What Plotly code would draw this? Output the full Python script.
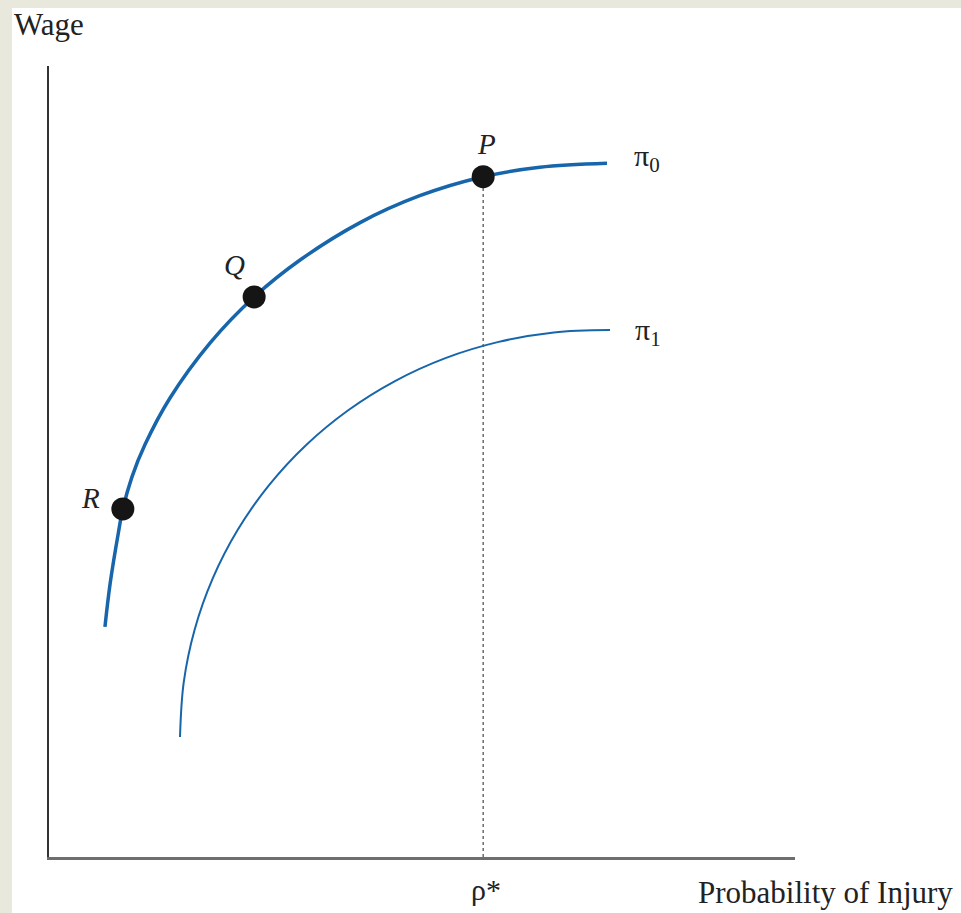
import plotly.graph_objects as go

# Iso-profit curves: wage offered against probability of injury
pi0_x = [0.75, 0.82, 0.93, 0.99, 1.11, 1.29, 1.62, 2.16, 2.75, 3.37, 4.17, 4.97, 5.82, 6.58, 7.48]
pi0_y = [2.91, 3.46, 4.10, 4.40, 4.80, 5.22, 5.80, 6.50, 7.08, 7.55, 8.02, 8.36, 8.60, 8.72, 8.77]

pi1_x = [1.756, 1.805, 1.952, 2.195, 2.528, 2.947, 3.444, 4.011, 4.638, 5.314, 6.028, 6.768, 7.520]
pi1_y = [1.517, 2.202, 2.874, 3.522, 4.133, 4.698, 5.206, 5.648, 6.017, 6.307, 6.512, 6.632, 6.662]

# Points on the higher iso-profit curve
point_names = ["R", "Q", "P"]
point_x = [0.99, 2.75, 5.82]
point_y = [4.40, 7.08, 8.60]

rho_star = 5.82

SERIF = "Liberation Serif, Times New Roman, serif"
BLUE = "#1766ab"
TEXT = "#222222"

fig = go.Figure()

fig.add_trace(go.Scatter(
    x=[rho_star, rho_star], y=[0, point_y[2]], mode="lines",
    line=dict(color="#555555", width=1.3, dash="dot"), hoverinfo="skip"))

fig.add_trace(go.Scatter(
    x=pi1_x, y=pi1_y, mode="lines", line=dict(color=BLUE, width=2, shape="spline"),
    hoverinfo="skip"))

fig.add_trace(go.Scatter(
    x=pi0_x, y=pi0_y, mode="lines", line=dict(color=BLUE, width=3.5, shape="spline"),
    hoverinfo="skip"))

fig.add_trace(go.Scatter(
    x=point_x, y=point_y, mode="markers",
    marker=dict(color="#151515", size=23, line=dict(width=0)), hoverinfo="skip"))

annotations = [
    # axis titles and the rho* mark sit outside the plot area, so use paper coords
    dict(x=-0.0496, y=1.052, xref="paper", yref="paper", text="Wage",
         xanchor="left", yanchor="middle", font=dict(family=SERIF, size=31, color=TEXT)),
    dict(x=1.2145, y=-0.0455, xref="paper", yref="paper", text="Probability of Injury",
         xanchor="right", yanchor="middle", font=dict(family=SERIF, size=31, color=TEXT)),
    dict(x=0.5858, y=-0.0417, xref="paper", yref="paper", text="ρ*",
         xanchor="center", yanchor="middle", font=dict(family=SERIF, size=30, color=TEXT)),
    dict(x=7.82, y=8.84, xref="x", yref="y", text="π<sub>0</sub>", xanchor="left",
         yanchor="middle", font=dict(family=SERIF, size=30, color=TEXT)),
    dict(x=7.83, y=6.64, xref="x", yref="y", text="π<sub>1</sub>", xanchor="left",
         yanchor="middle", font=dict(family=SERIF, size=30, color=TEXT)),
]
label_pos = {"R": (0.56, 4.54), "Q": (2.48, 7.48), "P": (5.87, 9.01)}
for name in point_names:
    lx, ly = label_pos[name]
    annotations.append(dict(x=lx, y=ly, xref="x", yref="y", text=f"<i>{name}</i>",
                            xanchor="center", yanchor="middle",
                            font=dict(family=SERIF, size=29, color=TEXT)))
for a in annotations:
    a["showarrow"] = False

fig.update_layout(
    width=961, height=913,
    margin=dict(l=49, r=166, t=66, b=56),
    paper_bgcolor="#e8e8dc",
    plot_bgcolor="rgba(0,0,0,0)",
    showlegend=False,
    annotations=annotations,
    shapes=[dict(type="rect", xref="paper", yref="paper",
                 x0=-0.0496, x1=1.23, y0=-0.08, y1=1.0733,
                 fillcolor="white", line=dict(width=0), layer="below")],
    xaxis=dict(range=[0, 10], showline=True, linecolor="#6e6e6e", linewidth=2.5,
               showgrid=False, zeroline=False, showticklabels=False, ticks="",
               fixedrange=True),
    yaxis=dict(range=[0, 10], showline=True, linecolor="#333333", linewidth=2,
               showgrid=False, zeroline=False, showticklabels=False, ticks="",
               fixedrange=True),
)

fig.write_html("out.html")
